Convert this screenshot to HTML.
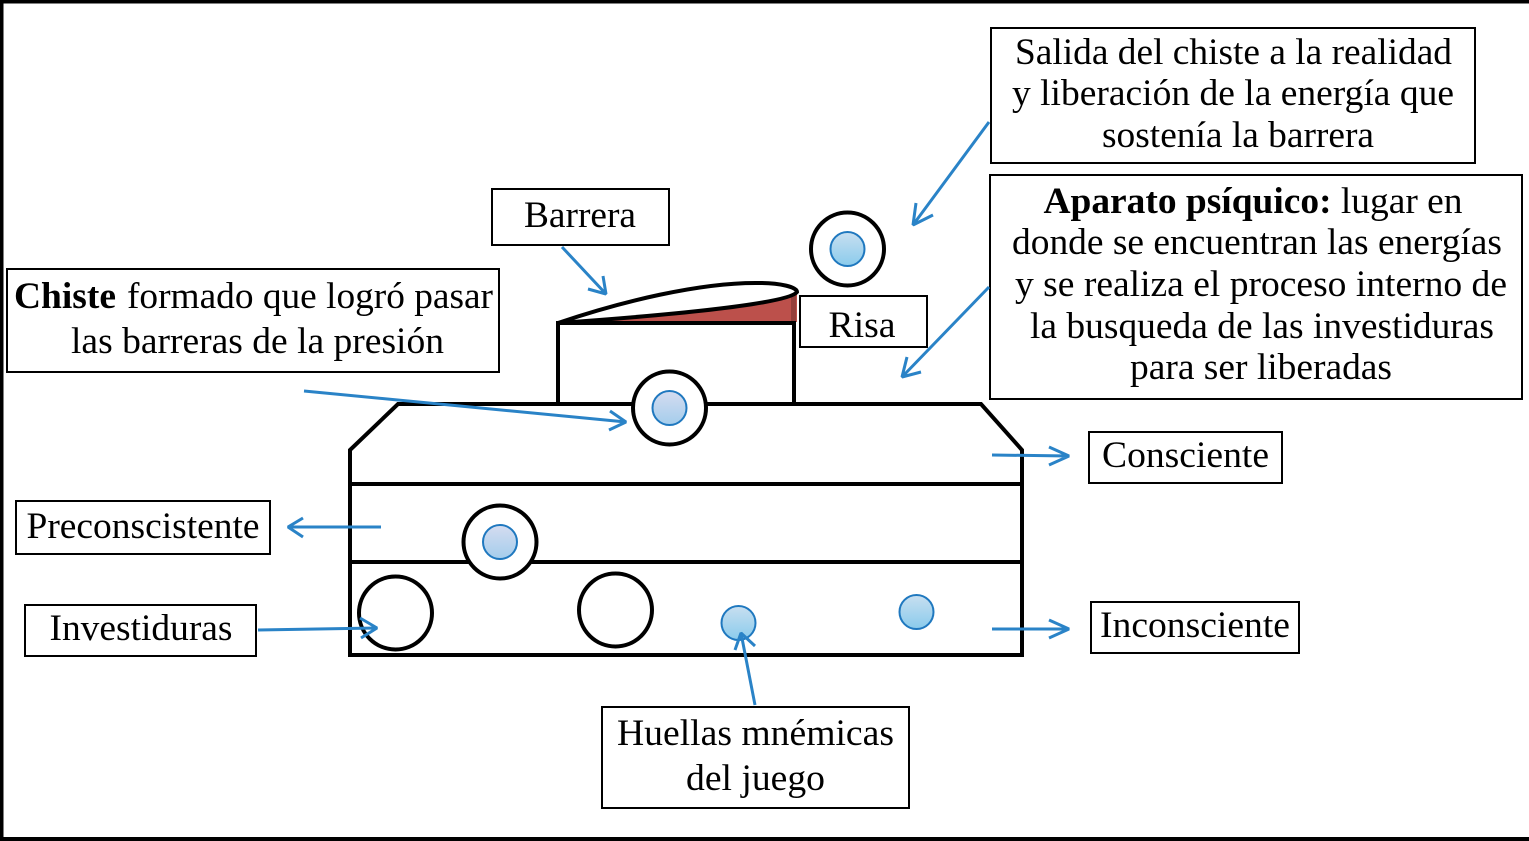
<!DOCTYPE html>
<html><head><meta charset="utf-8"><style>
html,body{margin:0;padding:0;background:#fff}
svg{display:block}
text{font-family:"Liberation Serif",serif;font-size:37px;fill:#000;text-anchor:middle}
.s{text-anchor:start}
.b{fill:#fff;stroke:#000;stroke-width:2}
.k{fill:none;stroke:#000;stroke-width:4}
.a{fill:none;stroke:#2a83c7;stroke-width:3;stroke-linejoin:bevel}
.w{fill:#fff;stroke:#000;stroke-width:4}
.c{stroke:#1f78bf;stroke-width:2}
</style></head><body>
<svg width="1529" height="841" viewBox="0 0 1529 841" xmlns="http://www.w3.org/2000/svg">
<defs>
<linearGradient id="g1" x1="0" y1="0" x2="0" y2="1"><stop offset="0" stop-color="#d5dcf0"/><stop offset="1" stop-color="#a4cdec"/></linearGradient>
<linearGradient id="g2" x1="0" y1="0" x2="0" y2="1"><stop offset="0" stop-color="#c8dff0"/><stop offset="1" stop-color="#8acbec"/></linearGradient>
</defs>
<rect x="0" y="0" width="1529" height="841" fill="#fff"/>
<path d="M1.500 841V1.500H1529" fill="none" stroke="#000" stroke-width="4"/>
<rect x="0" y="837" width="1529" height="4" fill="#000"/>

<!-- red wedge, covered above by the white leaf -->
<path d="M580 322L797 288V322Z" fill="#bc504b"/>
<rect x="791" y="294" width="5" height="28" fill="#94403c"/>
<!-- structure -->
<path class="k" d="M558 404V323H794V404"/>
<path d="M558 323C620 302 700 282 760 283C780 283 797 287 797 292C790 302 700 313 558 323Z" fill="#fff" stroke="#000" stroke-width="4"/>
<path class="k" d="M350 655V450L398 404H981L1022 450V655Z"/>
<path class="k" d="M350 484H1022M350 562H1022"/>

<!-- circles -->
<circle class="w" cx="847.500" cy="249" r="36.500"/>
<circle class="c" cx="847.500" cy="249" r="17" fill="url(#g2)"/>
<circle class="w" cx="669.500" cy="408" r="36.500"/>
<circle class="c" cx="669.500" cy="408" r="17" fill="url(#g1)"/>
<circle class="w" cx="500" cy="542" r="36.500"/>
<circle class="c" cx="500" cy="542" r="17" fill="url(#g1)"/>
<circle class="w" cx="395.500" cy="613" r="36.500"/>
<circle class="w" cx="615.500" cy="610" r="36.500"/>
<circle class="c" cx="738.500" cy="623" r="17" fill="url(#g2)"/>
<circle class="c" cx="916.500" cy="612" r="17" fill="url(#g2)"/>

<!-- boxes -->
<rect class="b" x="991" y="28" width="484" height="135"/>
<rect class="b" x="990" y="175" width="532" height="224"/>
<rect class="b" x="492" y="189" width="177" height="56"/>
<rect class="b" x="800" y="296" width="127" height="51"/>
<rect class="b" x="7" y="269" width="492" height="103"/>
<rect class="b" x="1089" y="432" width="193" height="51"/>
<rect class="b" x="16" y="501" width="254" height="53"/>
<rect class="b" x="25" y="605" width="231" height="51"/>
<rect class="b" x="1091" y="602" width="208" height="51"/>
<rect class="b" x="602" y="707" width="307" height="101"/>

<!-- arrows -->
<path class="a" d="M989 122L913 225M916 203L913 225L933 215"/>
<path class="a" d="M989 287L902 377M907 357L902 377L921 372"/>
<path class="a" d="M562 247L606 294M603 276L606 294L588 289"/>
<path class="a" d="M304 391L626 422M610 411L626 422L609 430"/>
<path class="a" d="M992 455L1069 456M1049 447L1069 456L1049 465"/>
<path class="a" d="M381 527H288M303 518L288 527L303 537"/>
<path class="a" d="M258 630L377 628M360 618L377 628L361 638"/>
<path class="a" d="M992 629H1069M1049 620L1069 629L1049 638"/>
<path class="a" d="M755 705L741 633M735 650L741 633L755 646"/>

<!-- text -->
<text x="1233.500" y="64" textLength="437" lengthAdjust="spacingAndGlyphs">Salida del chiste a la realidad</text>
<text x="1233" y="105" textLength="442" lengthAdjust="spacingAndGlyphs">y liberación de la energía que</text>
<text x="1238" y="147" textLength="272" lengthAdjust="spacingAndGlyphs">sostenía la barrera</text>
<text x="1253" y="213" textLength="419" lengthAdjust="spacingAndGlyphs"><tspan font-weight="bold">Aparato psíquico:</tspan> lugar en</text>
<text x="1257" y="254" textLength="490" lengthAdjust="spacingAndGlyphs">donde se encuentran las energías</text>
<text x="1261" y="296" textLength="492" lengthAdjust="spacingAndGlyphs">y se realiza el proceso interno de</text>
<text x="1262" y="338" textLength="464" lengthAdjust="spacingAndGlyphs">la busqueda de las investiduras</text>
<text x="1261" y="379" textLength="262" lengthAdjust="spacingAndGlyphs">para ser liberadas</text>
<text x="580" y="227" textLength="112" lengthAdjust="spacingAndGlyphs">Barrera</text>
<text x="862" y="337" textLength="67" lengthAdjust="spacingAndGlyphs">Risa</text>
<text class="s" x="14" y="308" textLength="102" lengthAdjust="spacingAndGlyphs" font-weight="bold">Chiste</text>
<text class="s" x="127" y="308" textLength="366" lengthAdjust="spacingAndGlyphs">formado que logró pasar</text>
<text x="257.500" y="353" textLength="373" lengthAdjust="spacingAndGlyphs">las barreras de la presión</text>
<text x="1185.500" y="467" textLength="167" lengthAdjust="spacingAndGlyphs">Consciente</text>
<text x="143" y="538" textLength="233" lengthAdjust="spacingAndGlyphs">Preconscistente</text>
<text x="141" y="640" textLength="183" lengthAdjust="spacingAndGlyphs">Investiduras</text>
<text x="1195" y="637" textLength="190" lengthAdjust="spacingAndGlyphs">Inconsciente</text>
<text x="755.500" y="745" textLength="277" lengthAdjust="spacingAndGlyphs">Huellas mnémicas</text>
<text x="755.500" y="790" textLength="139" lengthAdjust="spacingAndGlyphs">del juego</text>
</svg>
</body></html>
